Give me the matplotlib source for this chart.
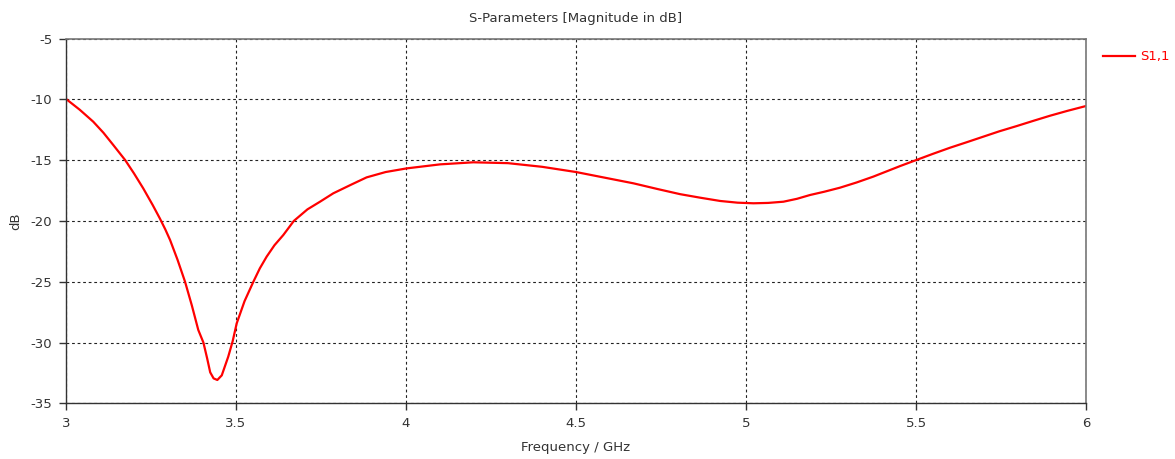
import matplotlib
matplotlib.use('Agg')
import matplotlib.pyplot as plt

plt.rcParams['axes.unicode_minus'] = False

# S1,1
freq = [3.000, 3.040, 3.080, 3.110, 3.139, 3.174, 3.200, 3.227, 3.255, 3.276,
        3.292, 3.306, 3.328, 3.350, 3.370, 3.389, 3.404, 3.415, 3.424, 3.434,
        3.445, 3.458, 3.477, 3.490, 3.502, 3.525, 3.551, 3.570, 3.590, 3.613,
        3.639, 3.670, 3.710, 3.747, 3.786, 3.840, 3.884, 3.940, 4.002, 4.100,
        4.198, 4.300, 4.400, 4.500, 4.580, 4.669, 4.740, 4.806, 4.865, 4.924,
        4.975, 5.022, 5.065, 5.110, 5.150, 5.188, 5.230, 5.276, 5.325, 5.374,
        5.453, 5.500, 5.550, 5.600, 5.650, 5.698, 5.745, 5.796, 5.845, 5.894,
        5.945, 6.000]
s11 = [-9.97, -10.85, -11.84, -12.75, -13.76, -15.00, -16.10, -17.32, -18.70, -19.80,
       -20.70, -21.57, -23.20, -25.00, -26.95, -28.97, -30.00, -31.30, -32.45, -32.95,
       -33.08, -32.70, -31.17, -29.90, -28.42, -26.60, -25.00, -23.90, -22.94, -22.00,
       -21.16, -20.00, -19.05, -18.42, -17.73, -17.00, -16.42, -15.98, -15.68, -15.35,
       -15.18, -15.25, -15.55, -15.98, -16.42, -16.91, -17.38, -17.80, -18.09, -18.36,
       -18.50, -18.55, -18.52, -18.42, -18.18, -17.87, -17.60, -17.27, -16.84, -16.36,
       -15.49, -15.00, -14.48, -13.98, -13.52, -13.07, -12.63, -12.20, -11.77, -11.35,
       -10.95, -10.55]

xticks = [3, 3.5, 4, 4.5, 5, 5.5, 6]
xticklabels = ['3', '3.5', '4', '4.5', '5', '5.5', '6']
yticks = [-35, -30, -25, -20, -15, -10, -5]

fig = plt.figure(figsize=(11.75, 4.59), dpi=100)
ax = fig.add_axes([0.0562, 0.1213, 0.8681, 0.7948])

ax.plot(freq, s11, color='#ff0000', linewidth=1.6, label='S1,1')

ax.set_xlim(3, 6)
ax.set_ylim(-35, -5)
ax.set_xticks(xticks)
ax.set_xticklabels(xticklabels)
ax.set_yticks(yticks)
ax.grid(True, color='#222222', linestyle=(0, (2.5, 2.5)), linewidth=0.8)

for side in ['top', 'right']:
    ax.spines[side].set_color('#777777')
    ax.spines[side].set_linewidth(1.2)
for side in ['left', 'bottom']:
    ax.spines[side].set_color('#333333')
    ax.spines[side].set_linewidth(1.0)

ax.tick_params(axis='both', direction='out', length=5, width=1, color='#333333',
               labelsize=9.5, labelcolor='#333333', pad=5)

ax.set_title('S-Parameters [Magnitude in dB]', fontsize=9.5, color='#333333', pad=12)
ax.set_xlabel('Frequency / GHz', fontsize=9.5, color='#333333', labelpad=8)
ax.set_ylabel('dB', fontsize=9.5, color='#333333', labelpad=6)

leg = ax.legend(loc='upper left', bbox_to_anchor=(1.005, 1.0), frameon=False,
                fontsize=9.5, handlelength=2.4, handletextpad=0.4)
for t in leg.get_texts():
    t.set_color('#ff0000')

fig.savefig('out.png', dpi=100)
